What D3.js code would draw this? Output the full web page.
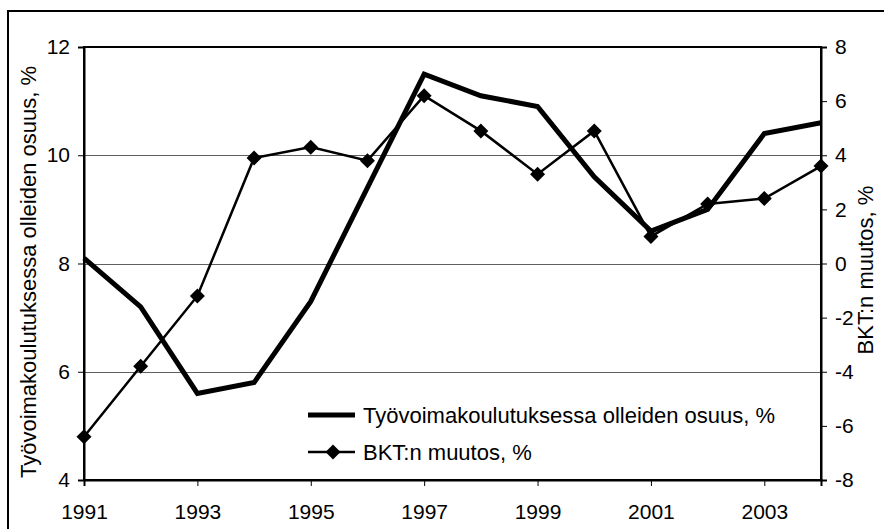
<!DOCTYPE html>
<html>
<head>
<meta charset="utf-8">
<script src="https://cdn.jsdelivr.net/npm/d3@7"></script>
<style>
  html, body { margin: 0; padding: 0; background: #fff; }
  svg { display: block; }
  text { font-family: "Liberation Sans", Arial, sans-serif; fill: #000; }
</style>
</head>
<body>
<svg id="chart" width="884" height="529"></svg>
<script>
const years = [1991,1992,1993,1994,1995,1996,1997,1998,1999,2000,2001,2002,2003,2004];
const trainingShare = [8.1,7.2,5.6,5.8,7.3,9.4,11.5,11.1,10.9,9.6,8.6,9.0,10.4,10.6];
const gdpChange = [-6.4,-3.8,-1.2,3.9,4.3,3.8,6.2,4.9,3.3,4.9,1.0,2.2,2.4,3.6];
const xTickYears = [1991,1993,1995,1997,1999,2001,2003];
const leftTicks = [4,6,8,10,12];
const rightTicks = [-8,-6,-4,-2,0,2,4,6,8];
const gridLeft = [6,8,10];
const leftTitle = "Työvoimakoulutuksessa olleiden osuus, %";
const rightTitle = "BKT:n muutos, %";
const legendLabels = ["Työvoimakoulutuksessa olleiden osuus, %", "BKT:n muutos, %"];

const svg = d3.select("#chart");
const L = 84, R = 821, T = 47, B = 480;

const x = d3.scalePoint().domain(years).range([L, R]);
const yL = d3.scaleLinear().domain([4, 12]).range([B, T]);
const yR = d3.scaleLinear().domain([-8, 8]).range([B, T]);

// outer frame (cropped)
svg.append("rect").attr("x", 8).attr("y", 11).attr("width", 1000).attr("height", 1000)
  .attr("fill", "#fff").attr("stroke", "#000").attr("stroke-width", 2);

// gridlines
svg.append("g").selectAll("line").data(gridLeft).join("line")
  .attr("x1", L).attr("x2", R)
  .attr("y1", d => Math.round(yL(d)) + 0.5).attr("y2", d => Math.round(yL(d)) + 0.5)
  .attr("stroke", "#606060").attr("stroke-width", 1);

// plot area border
svg.append("rect").attr("x", L).attr("y", T).attr("width", R - L).attr("height", B - T)
  .attr("fill", "none").attr("stroke", "#000").attr("stroke-width", 2);

const fs = "21px";
// left axis
const gL = svg.append("g").attr("transform", `translate(${L},0)`)
  .call(d3.axisLeft(yL).tickValues(leftTicks).tickSize(6).tickPadding(8).tickFormat(d3.format("d")));
gL.select(".domain").attr("stroke", "#000").attr("stroke-width", 2);
gL.selectAll(".tick line").attr("stroke", "#000").attr("stroke-width", 1);
gL.selectAll("text").style("font-size", fs).style("font-family", "'Liberation Sans', Arial, sans-serif");

// right axis
const gR = svg.append("g").attr("transform", `translate(${R},0)`)
  .call(d3.axisRight(yR).tickValues(rightTicks).tickSize(6).tickPadding(8).tickFormat(d3.format("d")));
gR.select(".domain").attr("stroke", "#000").attr("stroke-width", 2);
gR.selectAll(".tick line").attr("stroke", "#000").attr("stroke-width", 1);
gR.selectAll("text").style("font-size", fs).style("font-family", "'Liberation Sans', Arial, sans-serif")
  .text(d => d < 0 ? "-" + Math.abs(d) : d);

// bottom axis
const gB = svg.append("g").attr("transform", `translate(0,${B})`)
  .call(d3.axisBottom(x).tickValues(xTickYears).tickSize(6).tickPadding(18));
gB.select(".domain").attr("stroke", "#000").attr("stroke-width", 2);
gB.selectAll(".tick line").attr("stroke", "#000").attr("stroke-width", 1);
gB.selectAll("text").style("font-size", fs).style("font-family", "'Liberation Sans', Arial, sans-serif");

// thick line (left axis)
const lineL = d3.line().x((d, i) => x(years[i])).y(d => yL(d));
svg.append("path").datum(trainingShare).attr("d", lineL)
  .attr("fill", "none").attr("stroke", "#000").attr("stroke-width", 5).attr("stroke-linejoin", "miter");

// thin line with diamonds (right axis)
const lineR = d3.line().x((d, i) => x(years[i])).y(d => yR(d));
svg.append("path").datum(gdpChange).attr("d", lineR)
  .attr("fill", "none").attr("stroke", "#000").attr("stroke-width", 2.5);

const diamond = (cx, cy, r) => `M${cx},${cy - r}L${cx + r},${cy}L${cx},${cy + r}L${cx - r},${cy}Z`;
svg.append("g").selectAll("path").data(gdpChange).join("path")
  .attr("d", (d, i) => diamond(x(years[i]), yR(d), 7.5))
  .attr("fill", "#000");

// axis titles
svg.append("text").attr("transform", `translate(36,272) rotate(-90)`)
  .attr("text-anchor", "middle").style("font-size", "22px").text(leftTitle);
svg.append("text").attr("transform", `translate(873,270) rotate(-90)`)
  .attr("text-anchor", "middle").style("font-size", "22px").text(rightTitle);

// legend
const lg = svg.append("g");
lg.append("line").attr("x1", 308).attr("x2", 355).attr("y1", 415).attr("y2", 415)
  .attr("stroke", "#000").attr("stroke-width", 5);
lg.append("text").attr("x", 363).attr("y", 423).style("font-size", "22px").text(legendLabels[0]);
lg.append("line").attr("x1", 308).attr("x2", 355).attr("y1", 452).attr("y2", 452)
  .attr("stroke", "#000").attr("stroke-width", 2.5);
lg.append("path").attr("d", diamond(333, 452, 7.5)).attr("fill", "#000");
lg.append("text").attr("x", 363).attr("y", 460).style("font-size", "22px").text(legendLabels[1]);
</script>
</body>
</html>
